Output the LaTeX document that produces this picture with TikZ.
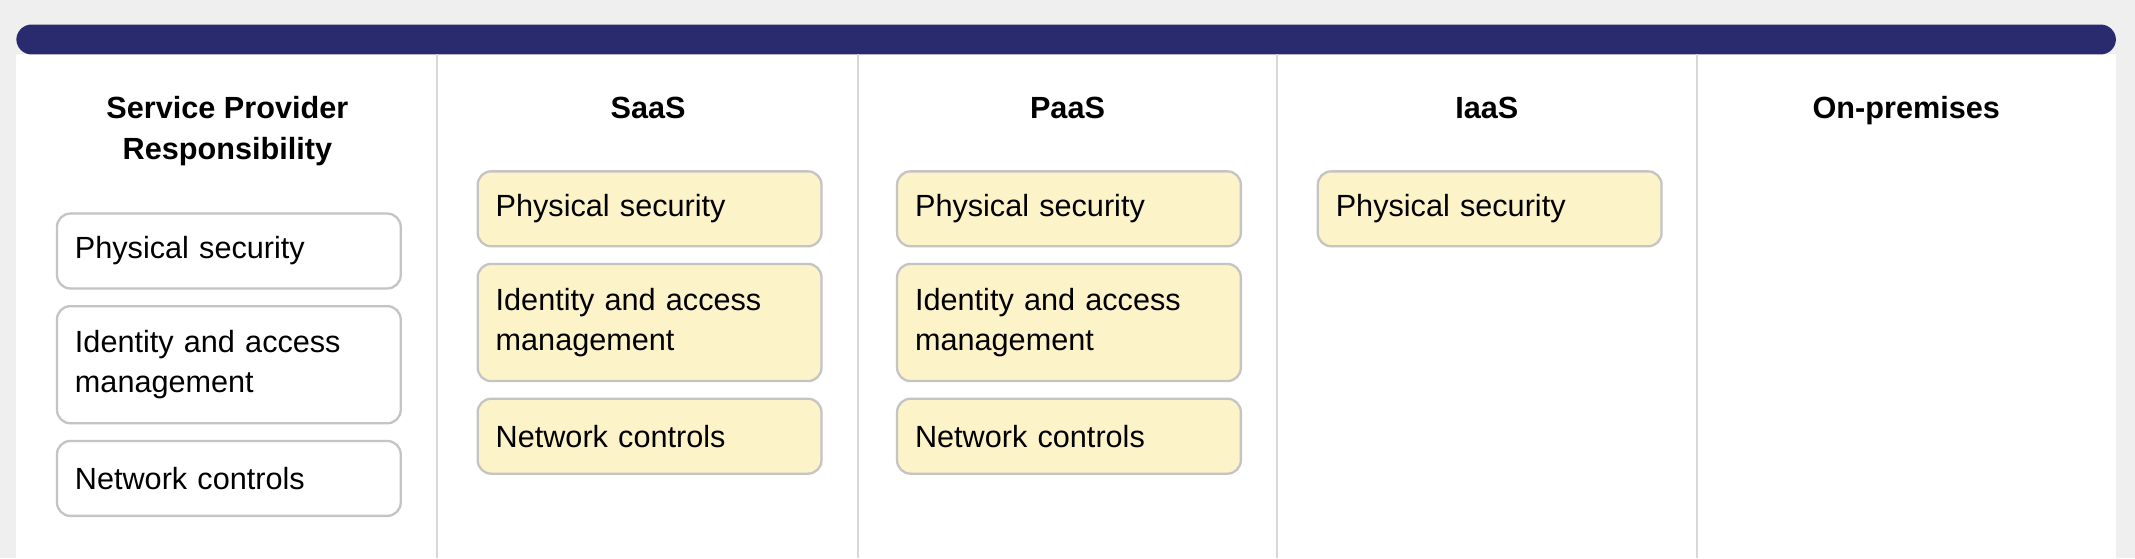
\documentclass[tikz,border=0pt]{standalone}
\usepackage{fontspec}
\setmainfont{Liberation Sans}
\definecolor{pagebg}{HTML}{EFEFEF}
\definecolor{navy}{HTML}{2A2A6E}
\definecolor{rule}{HTML}{D8D8D8}
\definecolor{cream}{HTML}{FDF3C8}
\definecolor{edge}{HTML}{C4C4C4}
\begin{document}
\begin{tikzpicture}[x=0.025cm, y=-0.025cm,
        head/.style={font=\bfseries\fontsize{16}{21}\selectfont, align=center, anchor=north},
        item/.style={rectangle, draw=edge, line width=1.2pt, rounded corners=7pt, anchor=north west,
            minimum width=6.3cm, text width=5.65cm, align=left, inner sep=0.33cm,
            font=\fontsize{16}{21}\selectfont, fill=#1},
        item/.default=white,
    ]
        % Background and frame
        \useasboundingbox (0,0) rectangle (1568,410);
        \fill[pagebg] (0,0) rectangle (1568,410);
        \fill[white] (12,40) rectangle (1554,410);
        \fill[navy, rounded corners=8pt] (12,40) -- (12,18) -- (1554,18) -- (1554,40) -- cycle;
        \foreach \x in {321,630,938,1246} {
            \draw[rule, line width=1pt] (\x,40) -- (\x,410);
        }

        % Column headers
        \node[head] (hprov) at (167,66) {Service Provider\\Responsibility};
        \node[head] (hsaas) at (476,66) {SaaS};
        \node[head] (hpaas) at (784,66) {PaaS};
        \node[head] (hiaas) at (1092,66) {IaaS};
        \node[head] (honprem) at (1400,66) {On-premises};

        % Service provider
        \node[item, minimum height=1.375cm] (pphys) at (41,156) {Physical security};
        \node[item, minimum height=2.15cm] (pident) at (41,224) {Identity and access management};
        \node[item, minimum height=1.375cm] (pnet) at (41,323) {Network controls};

        % SaaS
        \node[item=cream, minimum height=1.375cm] (sphys) at (350,125) {Physical security};
        \node[item=cream, minimum height=2.15cm] (sident) at (350,193) {Identity and access management};
        \node[item=cream, minimum height=1.375cm] (snet) at (350,292) {Network controls};

        % PaaS
        \node[item=cream, minimum height=1.375cm] (aphys) at (658,125) {Physical security};
        \node[item=cream, minimum height=2.15cm] (aident) at (658,193) {Identity and access management};
        \node[item=cream, minimum height=1.375cm] (anet) at (658,292) {Network controls};

        % IaaS
        \node[item=cream, minimum height=1.375cm] (iphys) at (967,125) {Physical security};
    \end{tikzpicture}
\end{document}
